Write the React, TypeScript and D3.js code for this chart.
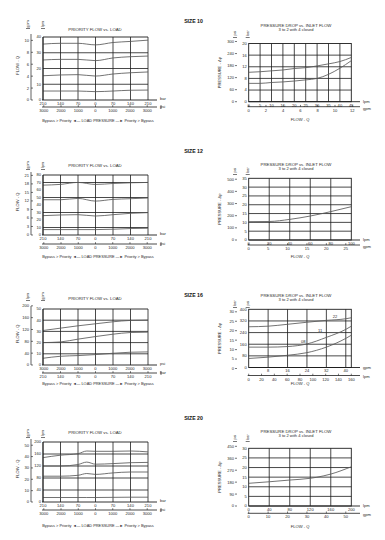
import React from 'react';
import * as d3 from 'd3';

const W = 385, H = 540;
const LPM_PER_GPM = 3.785;
const PSI_PER_BAR = 14.5038;
const FONT = '"Liberation Sans", Arial, sans-serif';
const INK = '#1c1c1c';
const CURVE = '#5a5a5a';

// load pressure ticks (left side = bypass > priority)
const loadBar = [-210, -140, -70, 0, 70, 140, 210];
const loadPsi = [-3000, -2000, -1000, 0, 1000, 2000, 3000];
const loadBar20 = [-210, -140, -70, -35, 0, 70, 140, 210];

// priority flow vs load (size 10, 12, 20 in lpm; size 16 in gpm)
const s10Flow1 = [35.5, 36, 36, 35, 36.5, 37.2, 38];
const s10Flow2 = [25.4, 25.8, 25.8, 25, 26.7, 27.5, 27.9];
const s10Flow3 = [15.4, 15.9, 16.1, 15.2, 16.5, 17.3, 17.8];
const s10Flow4 = [5.7, 5.7, 5.7, 5.3, 5.7, 6.2, 6.3];

const s12Flow1 = [66.5, 67.5, 70.1, 67.4, 68.7, 69.6, 70.1];
const s12Flow2 = [47, 47, 48.8, 45.2, 47.5, 48.4, 49.3];
const s12Flow3 = [25.8, 26.7, 27.1, 25.3, 27.1, 28.9, 29.8];
const s12Flow4 = [7.2, 7.2, 7.2, 7.2, 7.7, 8.6, 9.0];

const s16Flow1 = [30.8, 32.9, 35, 36.8, 38.6, 39.8, 40.1];
const s16Flow2 = [20.0, 20.6, 23.1, 25.4, 27.5, 29, 29.3];
const s16Flow3 = [6.0, 7.8, 8.4, 9.3, 10.5, 11.4, 11.7];

const s20Flow1 = [148, 156, 161, 170, 169, 169, 170, 167];
const s20Flow2 = [120, 120, 125, 133, 126, 128, 131, 132];
const s20Flow3 = [86, 86, 89, 95, 92, 97, 100, 100];
const s20Flow4 = [15, 15, 15, 15, 15, 15.5, 16, 16];

// pressure drop vs inlet flow
const s10Q = [0, 5, 10, 15, 20, 25, 30, 35, 40, 45]; // lpm
const s10DropA = [10.1, 10.3, 10.6, 10.9, 11.4, 11.7, 12.3, 13, 13.8, 15.2]; // bar
const s10DropB = [6.3, 6.3, 6.6, 6.8, 7.1, 7.5, 8.0, 9.4, 11.5, 14.1];

const s12Q = [0, 20, 40, 60, 80, 100]; // lpm
const s12Drop = [10.4, 10.5, 11.7, 13.6, 16.1, 18.9]; // bar

const s16Q = [0, 8, 16, 24, 32, 40, 42.3]; // gpm
const s16Drop22 = [280, 284, 297, 311, 324, 335, 342]; // psi
const s16Drop11 = [140, 140, 144, 162, 207, 262, 284];
const s16Drop08 = [62, 71, 84, 102, 140, 200, 222];
const s16Labels = [
  { text: '22', q: 35.6, p: 351 },
  { text: '11', q: 29.4, p: 257 },
  { text: '08', q: 22.5, p: 180 },
];

const s20Q = [0, 40, 80, 120, 145, 160, 200]; // lpm
const s20Drop = [11.8, 12.6, 13.5, 14.4, 15.6, 16.6, 20.4]; // bar

const sizeTitles = [
  { text: 'SIZE 10', y: 21 },
  { text: 'SIZE 12', y: 151 },
  { text: 'SIZE 16', y: 295 },
  { text: 'SIZE 20', y: 418 },
];

const LP = { left: 43, right: 148, outerX: 31, flowX: 18, titleX: 95, captionX: 98, ext: 157 };
const RP = { left: 248.7, right: 351.3, outerX: 236, pressX: 220, titleX: 296, flowX: 300, ext: 360 };

const tick = { fontFamily: FONT, fontSize: 4.1, fill: '#2a2a2a' } as const;

function Unit({ x, y, text }: { x: number; y: number; text: string }) {
  return (
    <g>
      <text transform={`translate(${x},${y}) rotate(-90)`} textAnchor="middle" dy="0.35em"
        style={{ ...tick, fontSize: 3.8 }}>{text}</text>
      <line x1={x - 2} x2={x + 2} y1={y + 4.5} y2={y + 4.5} stroke={INK} strokeWidth={0.6} />
    </g>
  );
}

interface PriorityCfg {
  top: number; bottom: number; yMax: number;
  innerTicks: number[]; gridTicks: number[]; outerTicks: number[];
  outerToInner: (v: number) => number;
  outerUnit: string; innerUnit: string; psiFirst: boolean;
  xs: number[]; series: number[][];
  titleY: number; unitY: number; axis2Y: number; captionY: number;
}

function PriorityPanel({ c }: { c: PriorityCfg }) {
  const x = d3.scaleLinear().domain([-210, 210]).range([LP.left, LP.right]);
  const y = d3.scaleLinear().domain([0, c.yMax]).range([c.bottom, c.top]);
  const line = d3.line<number>().x((_, i) => x(c.xs[i])).y(d => y(d)).curve(d3.curveMonotoneX);
  const barTicks = loadBar.map(v => ({ pos: x(v), label: String(Math.abs(v)) }));
  const psiTicks = loadPsi.map(v => ({ pos: x(v / PSI_PER_BAR), label: String(Math.abs(v)) }));
  const first = c.psiFirst ? psiTicks : barTicks;
  const second = c.psiFirst ? barTicks : psiTicks;
  const u1 = c.psiFirst ? 'psi' : 'bar';
  const u2 = c.psiFirst ? 'bar' : 'psi';
  return (
    <g>
      <text x={LP.titleX} y={c.titleY} textAnchor="middle" dy="0.35em" style={{ ...tick, fontSize: 4.3 }}>
        PRIORITY FLOW vs. LOAD
      </text>
      {loadBar.map(v => (
        <line key={v} x1={x(v)} x2={x(v)} y1={c.top} y2={c.bottom} stroke={INK} strokeWidth={0.8} />
      ))}
      {c.gridTicks.map(v => (
        <line key={v} x1={LP.left} x2={LP.right} y1={y(v)} y2={y(v)} stroke={INK} strokeWidth={0.8} />
      ))}
      <line x1={LP.left} x2={LP.right} y1={c.top} y2={c.top} stroke={INK} strokeWidth={0.9} />
      {c.series.map((s, i) => (
        <path key={i} d={line(s) || ''} fill="none" stroke={CURVE} strokeWidth={0.85} />
      ))}
      {c.innerTicks.map(v => (
        <text key={v} x={LP.left - 2} y={y(v)} textAnchor="end" dy="0.35em" style={tick}>{v}</text>
      ))}
      <line x1={LP.outerX} x2={LP.outerX} y1={c.top - 3} y2={c.bottom} stroke={INK} strokeWidth={0.7} />
      {c.outerTicks.map(v => (
        <g key={v}>
          <line x1={LP.outerX} x2={LP.outerX + 2} y1={y(c.outerToInner(v))} y2={y(c.outerToInner(v))}
            stroke={INK} strokeWidth={0.6} />
          <text x={LP.outerX - 2} y={y(c.outerToInner(v))} textAnchor="end" dy="0.35em" style={tick}>{v}</text>
        </g>
      ))}
      <line x1={LP.left} x2={LP.left} y1={c.top} y2={c.bottom} stroke={INK} strokeWidth={0.9} />
      <line x1={LP.left - 1} x2={LP.ext} y1={c.bottom} y2={c.bottom} stroke={INK} strokeWidth={0.9} />
      {first.map(t => (
        <text key={t.pos} x={t.pos} y={c.bottom + 3.6} textAnchor="middle" dy="0.35em" style={tick}>{t.label}</text>
      ))}
      <text x={LP.ext + 3} y={c.bottom - 1} dy="0.35em" style={tick}>{u1}</text>
      <line x1={LP.left - 1} x2={LP.ext} y1={c.axis2Y} y2={c.axis2Y} stroke={INK} strokeWidth={0.8} />
      {second.map(t => (
        <g key={t.pos}>
          <line x1={t.pos} x2={t.pos} y1={c.axis2Y - 1.8} y2={c.axis2Y} stroke={INK} strokeWidth={0.6} />
          <text x={t.pos} y={c.axis2Y + 3.6} textAnchor="middle" dy="0.35em" style={tick}>{t.label}</text>
        </g>
      ))}
      <line x1={LP.ext + 4} x2={LP.ext + 4} y1={c.axis2Y - 2} y2={c.axis2Y + 2} stroke={INK} strokeWidth={0.6} />
      <text x={LP.ext + 3} y={c.axis2Y} dy="0.35em" style={tick}>{u2}</text>
      <text x={LP.captionX} y={c.captionY} textAnchor="middle" dy="0.35em" style={{ ...tick, fontSize: 3.9 }}>
        Bypass &gt; Priority ◄— LOAD PRESSURE —► Priority &gt; Bypass
      </text>
      <text transform={`translate(${LP.flowX},${(c.top + c.bottom) / 2 - 3}) rotate(-90)`} textAnchor="middle"
        dy="0.35em" style={tick}>FLOW - Q</text>
      <Unit x={LP.outerX - 3} y={c.unitY} text={c.outerUnit} />
      <Unit x={LP.left} y={c.unitY} text={c.innerUnit} />
    </g>
  );
}

interface PressureCfg {
  top: number; bottom: number; yMax: number; xMax: number;
  innerTicks: number[]; gridY: number[]; outerTicks: number[];
  outerY: (v: number, y: d3.ScaleLinear<number, number>) => number;
  outerUnit: string; innerUnit: string;
  xTicks: number[]; gridX: number[]; x2Ticks: number[];
  x2ToX: (v: number) => number;
  xUnit: string; x2Unit: string;
  qs: number[]; series: number[][];
  labels?: { text: string; q: number; p: number }[];
  titleY: number; unitY: number; axis2Y: number; flowY: number;
}

function PressurePanel({ c }: { c: PressureCfg }) {
  const x = d3.scaleLinear().domain([0, c.xMax]).range([RP.left, RP.right]);
  const y = d3.scaleLinear().domain([0, c.yMax]).range([c.bottom, c.top]);
  const line = d3.line<number>().x((_, i) => x(c.qs[i])).y(d => y(d)).curve(d3.curveMonotoneX);
  return (
    <g>
      <text x={RP.titleX} y={c.titleY} textAnchor="middle" dy="0.35em" style={{ ...tick, fontSize: 4.3 }}>
        PRESSURE DROP vs. INLET FLOW
      </text>
      <text x={RP.titleX} y={c.titleY + 5} textAnchor="middle" dy="0.35em" style={{ ...tick, fontSize: 4.1 }}>
        3 to 2 with 4 closed
      </text>
      {c.gridX.map(v => (
        <line key={v} x1={x(v)} x2={x(v)} y1={c.top} y2={c.bottom} stroke={INK} strokeWidth={0.8} />
      ))}
      {c.gridY.map(v => (
        <line key={v} x1={RP.left} x2={RP.right} y1={y(v)} y2={y(v)} stroke={INK} strokeWidth={0.8} />
      ))}
      <rect x={RP.left} y={c.top} width={RP.right - RP.left} height={c.bottom - c.top}
        fill="none" stroke={INK} strokeWidth={0.9} />
      {c.series.map((s, i) => (
        <path key={i} d={line(s) || ''} fill="none" stroke={CURVE} strokeWidth={0.85} />
      ))}
      {(c.labels || []).map(l => (
        <text key={l.text} x={x(l.q)} y={y(l.p)} textAnchor="middle" dy="0.35em" style={tick}>{l.text}</text>
      ))}
      {c.innerTicks.map(v => (
        <text key={v} x={RP.left - 2} y={y(v)} textAnchor="end" dy="0.35em" style={tick}>{v}</text>
      ))}
      {c.outerTicks.map(v => (
        <g key={v}>
          <line x1={RP.outerX - 1} x2={RP.outerX + 1} y1={c.outerY(v, y)} y2={c.outerY(v, y)}
            stroke={INK} strokeWidth={0.6} />
          <text x={RP.outerX - 2} y={c.outerY(v, y)} textAnchor="end" dy="0.35em" style={tick}>{v}</text>
        </g>
      ))}
      <line x1={RP.left} x2={RP.ext} y1={c.bottom} y2={c.bottom} stroke={INK} strokeWidth={0.9} />
      {c.xTicks.map(v => (
        <text key={v} x={x(v)} y={c.bottom + 3.4} textAnchor="middle" dy="0.35em" style={tick}>{v}</text>
      ))}
      <text x={RP.ext + 3} y={c.bottom} dy="0.35em" style={tick}>{c.xUnit}</text>
      <line x1={RP.left - 1} x2={RP.ext} y1={c.axis2Y} y2={c.axis2Y} stroke={INK} strokeWidth={0.8} />
      {c.x2Ticks.map(v => (
        <g key={v}>
          <line x1={x(c.x2ToX(v))} x2={x(c.x2ToX(v))} y1={c.axis2Y - 1.8} y2={c.axis2Y}
            stroke={INK} strokeWidth={0.6} />
          <text x={x(c.x2ToX(v))} y={c.axis2Y + 3.6} textAnchor="middle" dy="0.35em" style={tick}>{v}</text>
        </g>
      ))}
      <text x={RP.ext + 3} y={c.axis2Y + 1.5} dy="0.35em" style={tick}>{c.x2Unit}</text>
      <text x={RP.flowX} y={c.flowY} textAnchor="middle" dy="0.35em" style={tick}>FLOW - Q</text>
      <text transform={`translate(${RP.pressX},${(c.top + c.bottom) / 2}) rotate(-90)`} textAnchor="middle"
        dy="0.35em" style={tick}>PRESSURE - Δp</text>
      <Unit x={RP.outerX - 1} y={c.unitY} text={c.outerUnit} />
      <Unit x={RP.left - 1} y={c.unitY} text={c.innerUnit} />
    </g>
  );
}

const step = (a: number, b: number, s: number) => d3.range(a, b + s / 2, s);
const gpmToLpm = (v: number) => v * LPM_PER_GPM;
const lpmToGpm = (v: number) => v / LPM_PER_GPM;
const psiOnBar = (v: number, y: d3.ScaleLinear<number, number>) => y(v / PSI_PER_BAR);

const priority: PriorityCfg[] = [
  {
    top: 37, bottom: 100, yMax: 40, innerTicks: step(0, 40, 10), gridTicks: [10, 20, 30],
    outerTicks: step(0, 10, 2), outerToInner: gpmToLpm, outerUnit: 'gpm', innerUnit: 'lpm', psiFirst: false,
    xs: loadBar, series: [s10Flow1, s10Flow2, s10Flow3, s10Flow4],
    titleY: 29, unitY: 24, axis2Y: 107, captionY: 121,
  },
  {
    top: 175, bottom: 235, yMax: 80, innerTicks: step(0, 80, 10), gridTicks: [10, 30, 50, 70],
    outerTicks: step(0, 21, 3), outerToInner: gpmToLpm, outerUnit: 'gpm', innerUnit: 'lpm', psiFirst: false,
    xs: loadBar, series: [s12Flow1, s12Flow2, s12Flow3, s12Flow4],
    titleY: 165, unitY: 165, axis2Y: 244, captionY: 257,
  },
  {
    top: 309, bottom: 365, yMax: 50, innerTicks: step(0, 50, 10), gridTicks: [10, 20, 30, 40],
    outerTicks: step(0, 200, 40), outerToInner: lpmToGpm, outerUnit: 'lpm', innerUnit: 'gpm', psiFirst: true,
    xs: loadBar, series: [s16Flow1, s16Flow2, s16Flow3],
    titleY: 298, unitY: 296, axis2Y: 373, captionY: 384,
  },
  {
    top: 442, bottom: 502, yMax: 200, innerTicks: step(0, 200, 40), gridTicks: [40, 80, 120, 160],
    outerTicks: step(0, 50, 10), outerToInner: gpmToLpm, outerUnit: 'gpm', innerUnit: 'lpm', psiFirst: false,
    xs: loadBar20, series: [s20Flow1, s20Flow2, s20Flow3, s20Flow4],
    titleY: 432, unitY: 433, axis2Y: 510, captionY: 526,
  },
];

const pressure: PressureCfg[] = [
  {
    top: 43.5, bottom: 101.7, yMax: 20, xMax: 45,
    innerTicks: step(0, 20, 4), gridY: [4, 8, 12, 16], outerTicks: step(0, 300, 60), outerY: psiOnBar,
    outerUnit: 'psi', innerUnit: 'bar',
    xTicks: s10Q, gridX: step(5, 40, 5), x2Ticks: step(0, 12, 2), x2ToX: gpmToLpm, xUnit: 'lpm', x2Unit: 'gpm',
    qs: s10Q, series: [s10DropA, s10DropB],
    titleY: 25, unitY: 33, axis2Y: 106.7, flowY: 120,
  },
  {
    top: 178.3, bottom: 240, yMax: 35, xMax: 100,
    innerTicks: step(0, 35, 5), gridY: step(5, 30, 5), outerTicks: step(0, 500, 100), outerY: psiOnBar,
    outerUnit: 'psi', innerUnit: 'bar',
    xTicks: step(0, 100, 20), gridX: step(20, 80, 20), x2Ticks: step(0, 25, 5), x2ToX: gpmToLpm,
    xUnit: 'lpm', x2Unit: 'gpm',
    qs: s12Q, series: [s12Drop],
    titleY: 164, unitY: 170, axis2Y: 245, flowY: 256.7,
  },
  {
    top: 309.3, bottom: 367.5, yMax: 400, xMax: 160 / LPM_PER_GPM,
    innerTicks: step(0, 400, 80), gridY: [80, 160, 240, 320], outerTicks: step(0, 30, 5),
    outerY: (v, y) => d3.scaleLinear().domain([0, 30]).range([y(0) + 1, y(400) + 2.5])(v),
    outerUnit: 'bar', innerUnit: 'psi',
    xTicks: step(8, 40, 8), gridX: step(8, 40, 8), x2Ticks: step(0, 160, 20), x2ToX: lpmToGpm,
    xUnit: 'gpm', x2Unit: 'lpm',
    qs: s16Q, series: [s16Drop22, s16Drop11, s16Drop08], labels: s16Labels,
    titleY: 295, unitY: 303, axis2Y: 375.5, flowY: 384,
  },
  {
    top: 448.3, bottom: 506, yMax: 30, xMax: 200,
    innerTicks: step(0, 30, 5), gridY: step(5, 25, 5), outerTicks: step(0, 450, 90), outerY: psiOnBar,
    outerUnit: 'psi', innerUnit: 'bar',
    xTicks: step(0, 200, 40), gridX: step(40, 160, 40), x2Ticks: step(0, 50, 10), x2ToX: gpmToLpm,
    xUnit: 'lpm', x2Unit: 'gpm',
    qs: s20Q, series: [s20Drop],
    titleY: 431, unitY: 437, axis2Y: 513.3, flowY: 526.7,
  },
];

export default function App() {
  return (
    <svg width={W} height={H} viewBox={`0 0 ${W} ${H}`}
      style={{ position: 'absolute', left: 0, top: 0, background: '#fff' }}>
      <rect width={W} height={H} fill="#fff" />
      {sizeTitles.map(t => (
        <text key={t.text} x={193.5} y={t.y} textAnchor="middle" dy="0.35em"
          style={{ fontFamily: FONT, fontSize: 5.2, fontWeight: 700, fill: '#111' }}>{t.text}</text>
      ))}
      {priority.map((c, i) => <PriorityPanel key={i} c={c} />)}
      {pressure.map((c, i) => <PressurePanel key={i} c={c} />)}
    </svg>
  );
}
